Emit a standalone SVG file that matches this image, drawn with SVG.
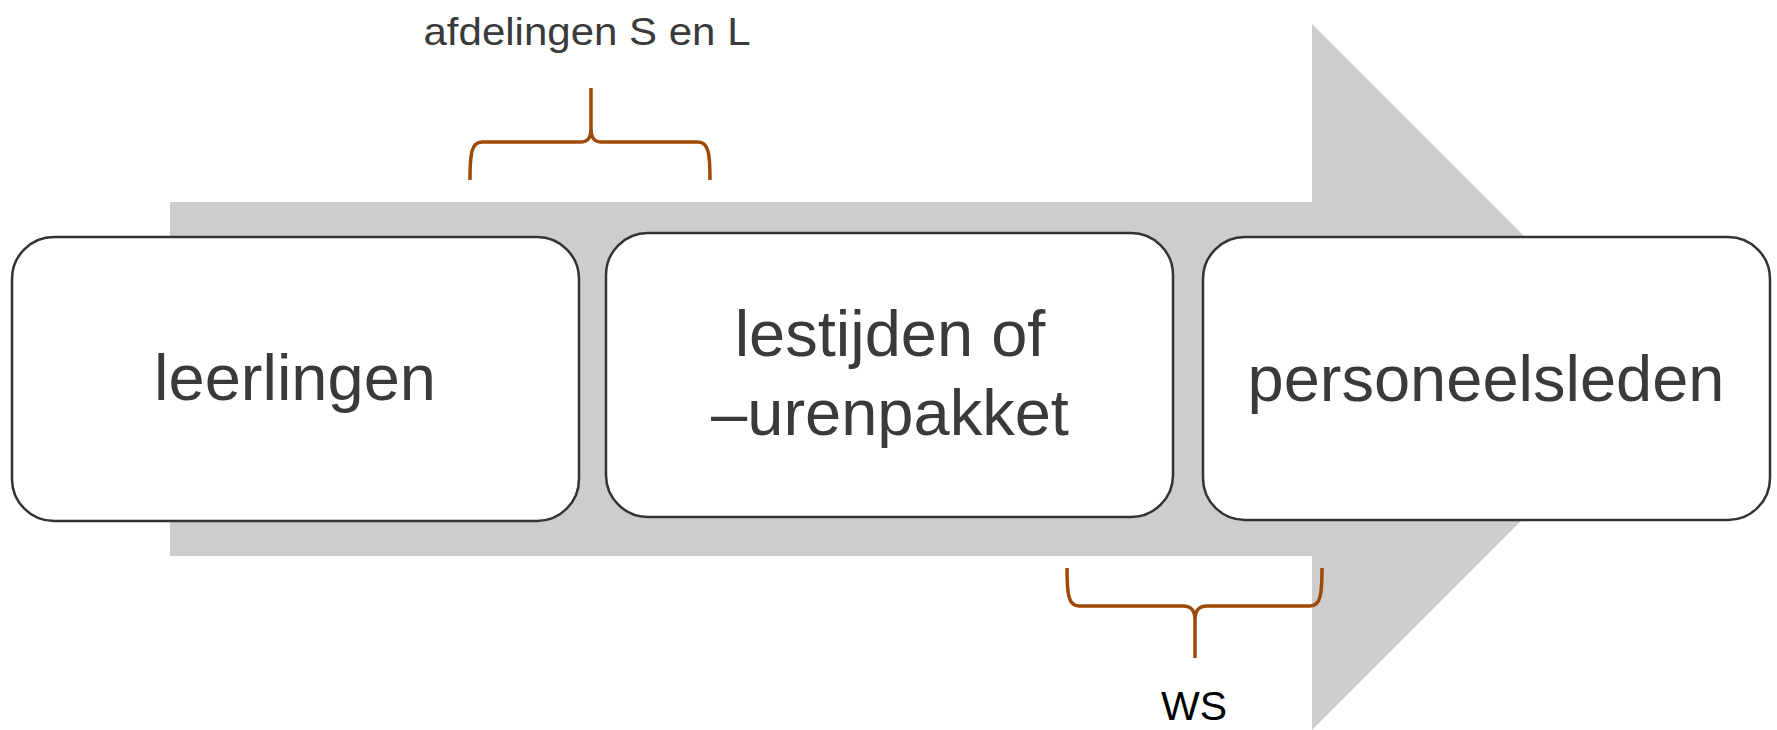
<svg xmlns="http://www.w3.org/2000/svg" width="1777" height="730" viewBox="0 0 1777 730">
<style>
.box{fill:#fff;stroke:#333;stroke-width:2.5}
.lbl{font-family:"Liberation Sans",Arial,sans-serif;font-size:65px;fill:#3a3a3a;text-anchor:middle}
.brace{fill:none;stroke:#9c4a06;stroke-width:3.5;stroke-linecap:butt}
</style>
<rect width="1777" height="730" fill="#fff"/>
<g id="arrow">
<polygon points="170,202 1312,202 1312,24 1665,377 1312,730 1312,556 170,556" fill="#cdcdcd"/>
</g>
<g id="connectors">
<path class="brace" d="M470,180 C470,155 471,142 482,142 L580,142 C588,142 591,138 591,128 L591,88 M591,128 C591,138 594,142 602,142 L698,142 C709,142 710,155 710,180"/>
<path class="brace" d="M1067,568 C1067,593 1068,606 1079,606 L1183,606 C1191,606 1195,610 1195,620 L1195,658 M1195,620 C1195,610 1199,606 1207,606 L1310,606 C1321,606 1322,593 1322,568"/>
</g>
<g id="node-leerlingen">
<rect class="box" x="12" y="237" width="567" height="284" rx="42" ry="42"/>
<text class="lbl" x="295" y="400">leerlingen</text>
</g>
<g id="node-lestijden">
<rect class="box" x="606" y="233" width="567" height="284" rx="42" ry="42"/>
<text class="lbl" x="890" y="356">lestijden of</text>
<text class="lbl" x="890" y="435">–urenpakket</text>
</g>
<g id="node-personeelsleden">
<rect class="box" x="1203" y="237" width="567" height="283" rx="42" ry="42"/>
<text class="lbl" x="1486" y="401">personeelsleden</text>
</g>
<g id="label-afdelingen">
<text x="587" y="45" font-family="'Liberation Sans',Arial,sans-serif" font-size="39" fill="#3a3a3a" text-anchor="middle" textLength="327" lengthAdjust="spacingAndGlyphs">afdelingen S en L</text>
</g>
<g id="label-ws">
<text x="1194" y="720" font-family="'Liberation Sans',Arial,sans-serif" font-size="41" fill="#000" text-anchor="middle">WS</text>
</g>
</svg>
